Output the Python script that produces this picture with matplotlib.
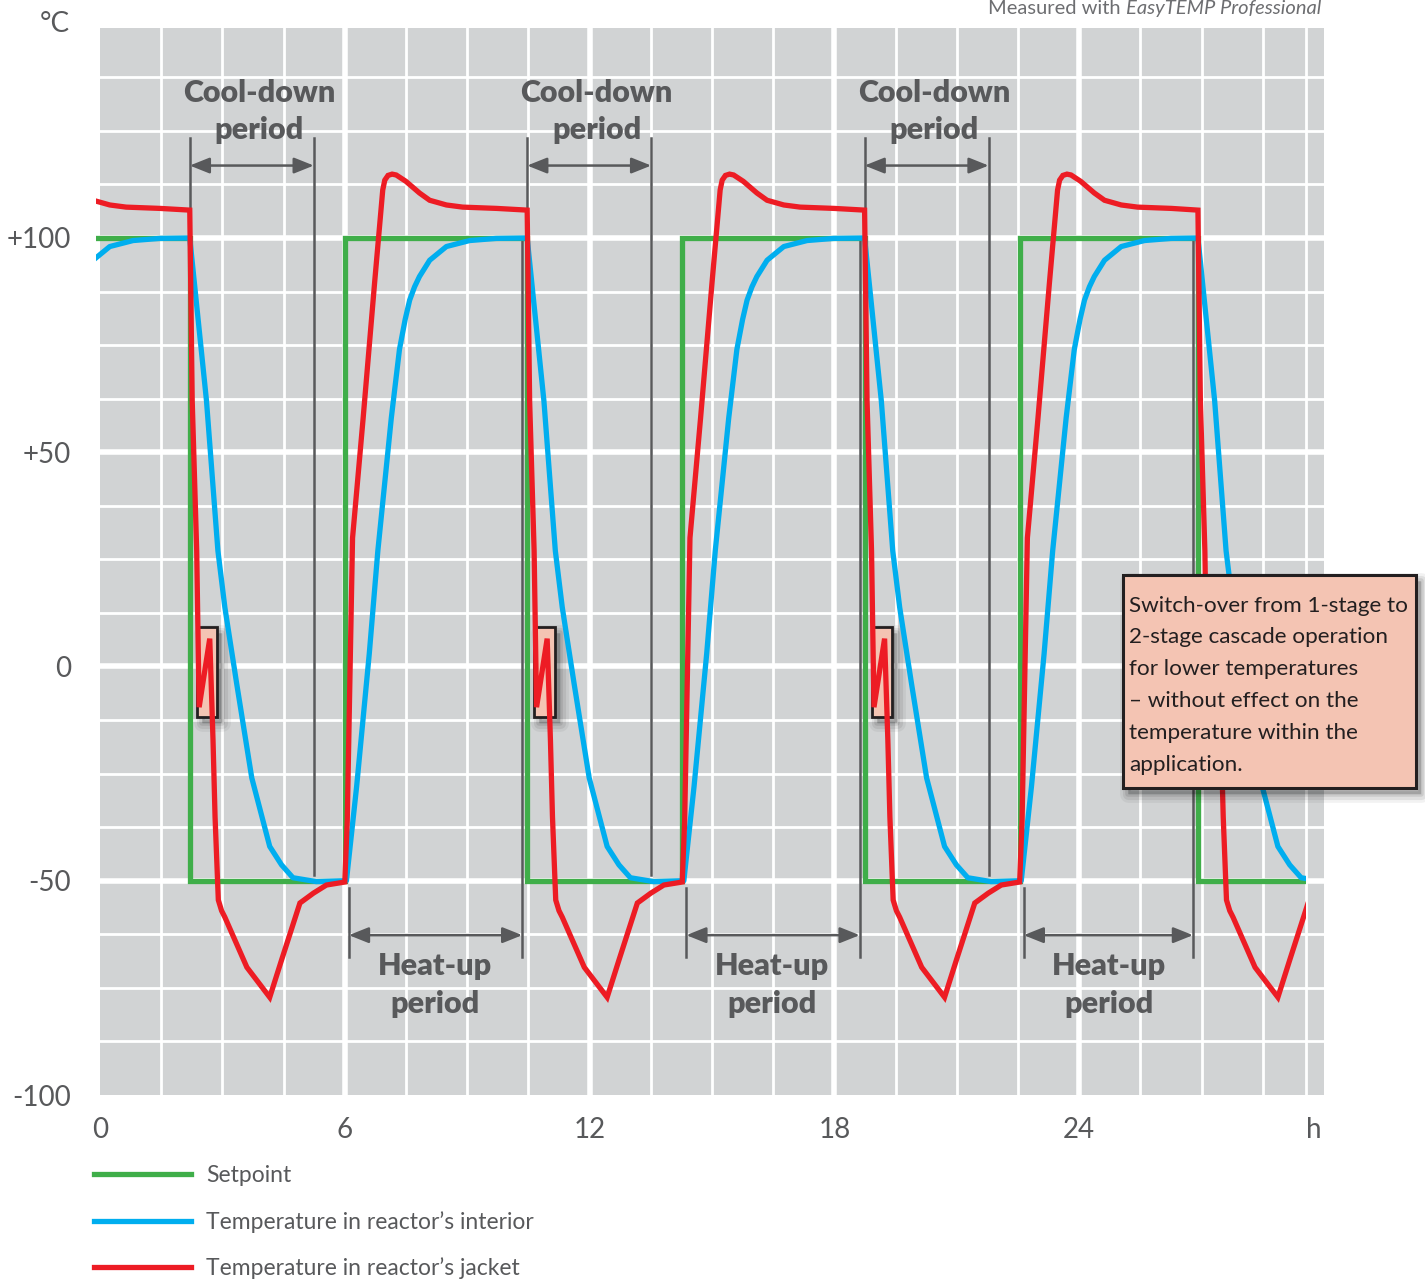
import numpy as np
import matplotlib
matplotlib.use("Agg")
import matplotlib.pyplot as plt
import matplotlib.transforms as mtransforms
from matplotlib.patches import Rectangle

plt.rcParams["font.family"] = ["Lato", "DejaVu Sans"]

# ---------------------------------------------------------------------------
# data (time in h, temperature in °C)
# ---------------------------------------------------------------------------

# setpoint steps: up to +100 at heat-up start, down to -50 at cool-down start
HEAT_START = [-2.25, 6.0, 14.27, 22.54]
COOL_START = [2.2, 10.47, 18.74, 26.91]
SET_HIGH = 100
SET_LOW = -50
T_FIRST, T_LAST = -0.1, 29.55

# reactor interior (blue): hours after heat-up start / after cool-down start
BLUE_HEAT_DT = [0.0, 0.04, 0.29, 0.60, 0.81, 1.14, 1.34, 1.48, 1.59, 1.71, 1.83, 2.08,
                2.49, 3.06, 3.71]
BLUE_HEAT_V = [-50, -50, -28, 3, 27, 58, 74, 81, 85.5, 88.6, 91, 94.8,
               98, 99.4, 99.9]
BLUE_COOL_DT = [0.0, 0.41, 0.69, 0.86, 1.15, 1.52, 1.96, 2.25, 2.53, 3.1]
BLUE_COOL_V = [100, 62, 27, 13.8, -4, -26, -42, -46.3, -49.3, -50.2]

# reactor jacket (red)
RED_HEAT_DT = [0.0, 0.06, 0.12, 0.19, 0.45, 0.73, 0.93, 0.98, 1.06, 1.16, 1.26, 1.5,
               1.83, 2.08, 2.49, 2.89, 3.72]
RED_HEAT_V = [-50.3, -36, -5, 30, 58, 89.5, 111.2, 113.5, 114.6, 114.9, 114.7, 113.2,
              110.5, 108.8, 107.7, 107.2, 106.9]
RED_COOL_DT = [0.0, 0.06, 0.17, 0.23, 0.49, 0.57, 0.62, 0.70, 0.78, 0.86, 1.40, 1.96,
               2.25, 2.70, 3.03, 3.35]
RED_COOL_V = [106.5, 62, 27, -9.5, 6.5, -17.2, -35.1, -54.5, -57.0, -58.5, -70.2, -77.2,
              -68.5, -55.2, -52.9, -51.0]

TICK_X = [0, 6, 12, 18, 24, 29.75]
TICK_X_LABELS = ["0", "6", "12", "18", "24", "h"]
TICK_Y = [-100, -50, 0, 50, 100]
TICK_Y_LABELS = ["-100", "-50", "0", "+50", "+100"]

LEGEND_LABELS = [
    "Setpoint",
    "Temperature in reactor’s interior",
    "Temperature in reactor’s jacket",
]
NOTE_LINES = [
    "Switch-over from 1-stage to",
    "2-stage cascade operation",
    "for lower temperatures",
    "– without effect on the",
    "temperature within the",
    "application.",
]

GREEN = "#3fae49"
BLUE = "#00aeef"
RED = "#ed1c24"
GRAY = "#58595b"
BG = "#d1d3d4"
SALMON = "#f4c4b3"
INK = "#231f20"


def build_series(heat_dt, heat_v, cool_dt, cool_v):
    t, v = [], []
    for h, c in zip(HEAT_START, COOL_START):
        t += [h + d for d in heat_dt]
        v += list(heat_v)
        t += [c + d for d in cool_dt]
        v += list(cool_v)
    return np.array(t), np.array(v)


def setpoint_series():
    t, v = [], []
    for h, c in zip(HEAT_START, COOL_START):
        t += [h, h, c, c]
        v += [SET_LOW, SET_HIGH, SET_HIGH, SET_LOW]
    t.append(T_LAST + 1)
    v.append(SET_LOW)
    return np.array(t), np.array(v)


def add_shadow(ax, xy, w, h, zorder):
    off = mtransforms.offset_copy(ax.transData, fig=ax.figure, x=5, y=-6, units="dots")
    for lw, a in [(12, 0.05), (8, 0.07), (4, 0.09)]:
        ax.add_patch(Rectangle(xy, w, h, transform=off, facecolor=(0, 0, 0, a),
                               edgecolor=(0, 0, 0, a), lw=lw, joinstyle="round",
                               zorder=zorder, clip_on=False))


fig = plt.figure(figsize=(14.25, 12.84), dpi=100)
ax = fig.add_axes([100 / 1425, 1 - 1095 / 1284, 1224 / 1425, 1067 / 1284])
ax.set_facecolor(BG)
ax.set_xlim(0, 30)
ax.set_ylim(-100, 149)
for s in ax.spines.values():
    s.set_visible(False)

# white grid, thicker at the labelled values
for x in list(np.arange(1.5, 29, 1.5)) + [29.55]:
    major = abs(x % 6) < 1e-6
    ax.axvline(x, color="white", lw=4 if major else 2, zorder=0.5)
for y in np.arange(-87.5, 149, 12.5):
    major = abs(y % 50) < 1e-6
    ax.axhline(y, color="white", lw=4 if major else 2, zorder=0.5)

# curves, clipped to the measured span
clip = Rectangle((T_FIRST, -105), T_LAST - T_FIRST, 260, transform=ax.transData)
t_set, v_set = setpoint_series()
t_blue, v_blue = build_series(BLUE_HEAT_DT, BLUE_HEAT_V, BLUE_COOL_DT, BLUE_COOL_V)
t_red, v_red = build_series(RED_HEAT_DT, RED_HEAT_V, RED_COOL_DT, RED_COOL_V)
l_set, = ax.plot(t_set, v_set, color=GREEN, lw=3.8, zorder=2, solid_joinstyle="miter")
l_blue, = ax.plot(t_blue, v_blue, color=BLUE, lw=3.8, zorder=3, solid_joinstyle="round")
l_red, = ax.plot(t_red, v_red, color=RED, lw=3.8, zorder=4, solid_joinstyle="miter")
for ln in (l_set, l_blue, l_red):
    ln.set_clip_box(None)
    ln.set_clip_path(clip)

arrow = dict(arrowstyle="<|-|>,head_length=0.4,head_width=0.16", color=GRAY,
             lw=1.8, shrinkA=0, shrinkB=0, mutation_scale=30)
bold = dict(ha="center", va="baseline", fontsize=22, fontweight="heavy", color=GRAY)

# cool-down periods
for c in COOL_START[:3]:
    ax.plot([c, c], [123.3, 107], color=GRAY, lw=1.8, zorder=1.5)
    ax.plot([c + 3.04] * 2, [123.3, -48.6], color=GRAY, lw=1.8, zorder=1.5)
    ax.annotate("", xy=(c + 3.04, 116.9), xytext=(c, 116.9), arrowprops=arrow, zorder=1.5)
    ax.text(c + 1.7, 131.7, "Cool-down", **bold)
    ax.text(c + 1.7, 123.0, "period", **bold)
    # switch-over marker
    add_shadow(ax, (c + 0.17, -11.9), 0.5, 21.0, 1.6)
    ax.add_patch(Rectangle((c + 0.17, -11.9), 0.5, 21.0, facecolor=SALMON,
                           edgecolor=INK, lw=2, zorder=1.8))

# heat-up periods
for h, c in zip(HEAT_START[1:], COOL_START[1:]):
    ax.plot([h + 0.1] * 2, [-51.7, -67.8], color=GRAY, lw=1.8, zorder=1.5)
    ax.plot([c - 0.12] * 2, [99.2, -67.8], color=GRAY, lw=1.8, zorder=1.5)
    ax.annotate("", xy=(c - 0.12, -62.7), xytext=(h + 0.1, -62.7), arrowprops=arrow, zorder=1.5)
    ax.text(h + 2.2, -72.0, "Heat-up", **bold)
    ax.text(h + 2.2, -80.9, "period", **bold)

# switch-over note
add_shadow(ax, (25.07, -28.35), 7.18, 49.7, 9)
ax.add_patch(Rectangle((25.07, -28.35), 7.18, 49.7, facecolor=SALMON, edgecolor=INK,
                       lw=2.2, zorder=10, clip_on=False))
for i, line in enumerate(NOTE_LINES):
    ax.text(25.22, 12.79 - i * 7.42, line, ha="left", va="baseline", fontsize=16.2,
            color=INK, zorder=11, clip_on=False)

# axes labels
ax.set_xticks(TICK_X)
ax.set_xticklabels(TICK_X_LABELS)
ax.set_yticks(TICK_Y)
ax.set_yticklabels(TICK_Y_LABELS)
ax.tick_params(axis="x", length=0, pad=16, labelsize=20, labelcolor=GRAY)
ax.tick_params(axis="y", length=0, pad=21, labelsize=20, labelcolor=GRAY)
fig.text(70 / 1425, 1 - 24 / 1284, "°C", ha="right", va="center", fontsize=20, color=GRAY)

# source line at the very top edge, as in the original
src = fig.text(1321 / 1425, 1 - 14 / 1284, "EasyTEMP Professional", ha="right",
               va="baseline", fontsize=14.5, style="italic", color="#6d6e71")
ax.annotate("Measured with ", xy=(0, 0), xycoords=src, ha="right", va="bottom",
            fontsize=14.5, color="#6d6e71", annotation_clip=False)

ax.legend([l_set, l_blue, l_red], LEGEND_LABELS, loc="upper left",
          bbox_to_anchor=(93.6 / 1425, 1 - 1165 / 1284), bbox_transform=fig.transFigure,
          frameon=False, fontsize=16.5, labelcolor=GRAY, handlelength=4.25,
          handletextpad=0.65, labelspacing=1.08, borderpad=0, borderaxespad=0)

fig.savefig("out.png", dpi=100)
